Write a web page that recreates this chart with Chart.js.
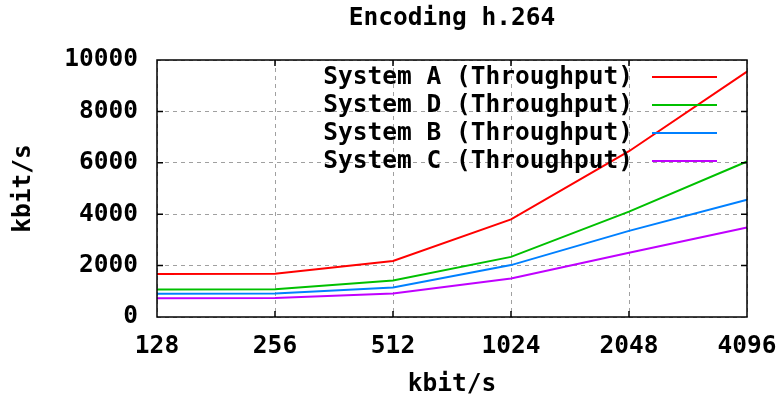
<!DOCTYPE html>
<html>
<head>
<meta charset="utf-8">
<script src="https://cdn.jsdelivr.net/npm/chart.js@4/dist/chart.umd.min.js"></script>
<style>
  html, body { margin: 0; padding: 0; background: #fff; }
  #wrap { width: 776px; height: 400px; }
</style>
</head>
<body>
<div id="wrap"><canvas id="myChart"></canvas></div>
<script>
'use strict';

const bitrates = ['128', '256', '512', '1024', '2048', '4096'];
const yTicks = [0, 2000, 4000, 6000, 8000, 10000];

const systemA = [1670, 1680, 2180, 3800, 6450, 9550];
const systemD = [1070, 1080, 1420, 2340, 4100, 6050];
const systemB = [900, 910, 1150, 2020, 3350, 4560];
const systemC = [730, 740, 910, 1500, 2500, 3480];

const seriesNames = ['System A (Throughput)', 'System D (Throughput)', 'System B (Throughput)', 'System C (Throughput)'];
const seriesColors = ['#ff0000', '#00c000', '#0080ff', '#c000ff'];
const seriesValues = [systemA, systemD, systemB, systemC];

const FONT = "'DejaVu Sans Mono', 'Liberation Mono', monospace";
const bigFont = { family: FONT, size: 24.5, weight: 'bold' };

// frame + inward tick marks, gnuplot style
const framePlugin = {
    id: 'frame',
    afterDatasetsDraw(chart) {
        const ctx = chart.ctx;
        const a = chart.chartArea;
        const xs = chart.scales.x;
        const ys = chart.scales.y;
        ctx.save();
        ctx.strokeStyle = '#000';
        ctx.lineWidth = 1.5;
        ctx.strokeRect(a.left, a.top, a.right - a.left, a.bottom - a.top);
        ctx.beginPath();
        for (let i = 1; i < bitrates.length - 1; i++) {
            let px = xs.getPixelForValue(i);
            ctx.moveTo(px, a.bottom); ctx.lineTo(px, a.bottom - 6);
            ctx.moveTo(px, a.top); ctx.lineTo(px, a.top + 6);
        }
        for (let i = 1; i < yTicks.length - 1; i++) {
            let py = ys.getPixelForValue(yTicks[i]);
            ctx.moveTo(a.left, py); ctx.lineTo(a.left + 6, py);
            ctx.moveTo(a.right, py); ctx.lineTo(a.right - 6, py);
        }
        ctx.stroke();
        ctx.restore();
    }
};

// key inside the plot, text left of the line sample
const keyPlugin = {
    id: 'key',
    afterDraw(chart) {
        const ctx = chart.ctx;
        const a = chart.chartArea;
        ctx.save();
        ctx.font = 'bold 24.5px ' + FONT;
        ctx.textAlign = 'right';
        ctx.textBaseline = 'middle';
        chart.data.datasets.forEach((ds, i) => {
            let y = a.top + 17 + i * 28;
            ctx.strokeStyle = ds.borderColor;
            ctx.lineWidth = 2;
            ctx.beginPath();
            ctx.moveTo(a.right - 95, y);
            ctx.lineTo(a.right - 30, y);
            ctx.stroke();
            ctx.fillStyle = '#000';
            ctx.fillText(ds.label, a.right - 114, y + 1);
        });
        ctx.restore();
    }
};

const datasets = seriesNames.map((name, i) => ({
    label: name,
    data: seriesValues[i],
    borderColor: seriesColors[i],
    backgroundColor: seriesColors[i],
    borderWidth: 2,
    pointRadius: 0,
    tension: 0,
    fill: false
}));

const config = {
    type: 'line',
    data: { labels: bitrates, datasets: datasets },
    options: {
        responsive: true,
        maintainAspectRatio: false,
        animation: false,
        events: [],
        layout: { padding: { left: 0, right: 29, top: 0, bottom: 0 } },
        plugins: {
            legend: { display: false },
            tooltip: { enabled: false },
            title: {
                display: true,
                text: 'Encoding h.264',
                fullSize: false,
                color: '#000',
                font: bigFont,
                padding: { top: 4, bottom: 26.6 }
            }
        },
        scales: {
            x: {
                type: 'category',
                offset: false,
                grid: { color: '#a0a0a0', lineWidth: 1, drawTicks: false },
                border: { display: false, dash: [4, 4] },
                ticks: { color: '#000', font: bigFont, padding: 15, autoSkip: false, maxRotation: 0 },
                title: { display: true, text: 'kbit/s', color: '#000', font: bigFont, padding: { top: 0, bottom: 1 } },
                afterFit(s) {
                    s.height = 83;
                    s.paddingLeft = 0;
                    s.paddingRight = 0;
                }
            },
            y: {
                min: 0,
                max: 10000,
                afterBuildTicks(s) { s.ticks = yTicks.map(v => ({ value: v })); },
                grid: { color: '#a0a0a0', lineWidth: 1, drawTicks: false },
                border: { display: false, dash: [4, 4] },
                ticks: { color: '#000', font: bigFont, padding: 19, callback: v => String(v) },
                title: { display: true, text: 'kbit/s', color: '#000', font: bigFont, padding: { top: 9, bottom: 0 } },
                afterFit(s) {
                    s.width = 157;
                    s.paddingTop = 0;
                    s.paddingBottom = 0;
                }
            }
        }
    },
    plugins: [framePlugin, keyPlugin]
};

const myChart = new Chart(document.getElementById('myChart'), config);
</script>
</body>
</html>
